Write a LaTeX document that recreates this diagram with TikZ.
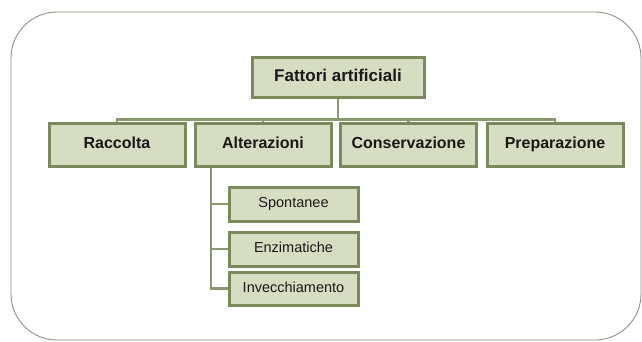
\documentclass[tikz,border=0pt]{standalone}
\usepackage{fontspec}
\setmainfont{Liberation Sans}
\usetikzlibrary{shadows,backgrounds}
\definecolor{sageFill}{HTML}{D6DDC3}
\definecolor{sageEdge}{HTML}{7A8A5C}
\definecolor{sageLine}{HTML}{8A9A6C}
\definecolor{frameGray}{HTML}{8E937E}
\begin{document}
\begin{tikzpicture}[x=1pt,y=-1pt,
    treeBox/.style={draw=sageEdge,fill=sageFill,line width=3pt,inner sep=0pt,
        text=black!90,text height=0.72em,text depth=0em,
        drop shadow={opacity=0.3,shadow xshift=1pt,shadow yshift=1.5pt}},
    topBox/.style={treeBox,minimum width=172pt,minimum height=40pt,
        font=\fontsize{17}{20}\selectfont\bfseries},
    catBox/.style={treeBox,minimum width=136pt,minimum height=42pt,
        font=\fontsize{16}{19}\selectfont\bfseries},
    subBox/.style={treeBox,minimum width=129pt,minimum height=34pt,
        font=\fontsize{14.5}{17}\selectfont},
    treeLink/.style={draw=sageLine,line width=2.8pt},
]
\useasboundingbox (0,0) rectangle (642,342);
% frame
\draw[frameGray,line width=0.9pt,rounded corners=46pt] (11,12) rectangle (641,340);
% root
\node[topBox] (root) at (338,78) {Fattori artificiali};
% second level
\node[catBox] (rac) at (117,145) {Raccolta};
\node[catBox] (alt) at (263,145) {Alterazioni};
\node[catBox] (con) at (408.5,145) {Conservazione};
\node[catBox] (pre) at (555,145) {Preparazione};
% sub items of Alterazioni
\node[subBox] (spo) at (293.5,204) {Spontanee};
\node[subBox] (enz) at (293.5,249) {Enzimatiche};
\node[subBox,minimum height=33pt] (inv) at (293.5,288.5) {Invecchiamento};
\coordinate (trunk) at ([xshift=-52pt]alt.south);
% links
\begin{scope}[on background layer]
\foreach \c in {rac,alt,con,pre}
    \draw[treeLink] (root.south) -- ++(0,20) -| (\c.north);
\foreach \c in {spo,enz,inv}
    \draw[treeLink] (trunk) |- (\c.west);
\end{scope}
\end{tikzpicture}
\end{document}
